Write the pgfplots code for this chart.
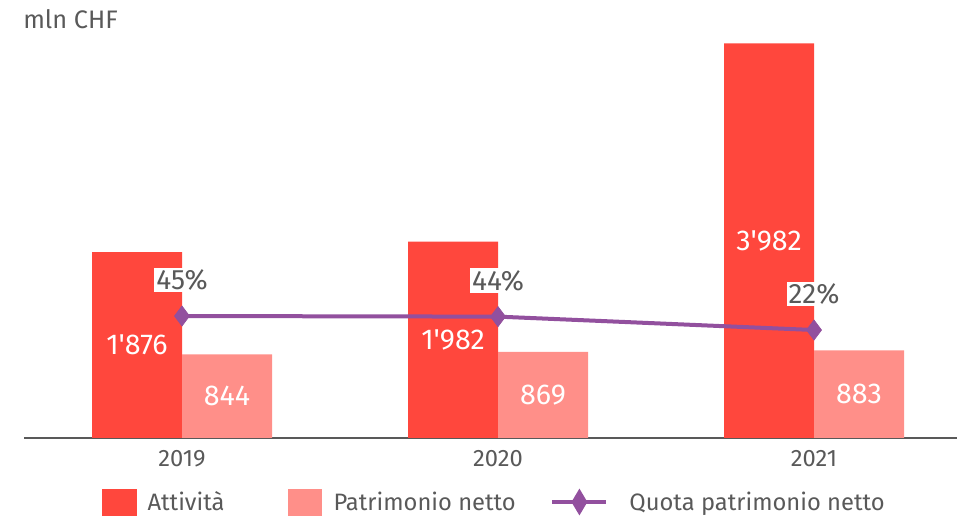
\documentclass[border=0pt]{standalone}
\usepackage{pgfplots}
\pgfplotsset{compat=1.18}
\usepackage{pgfplotstable}
\usepackage{fontspec}
\setmainfont{Fira Sans}
\definecolor{attred}{HTML}{FF473D}
\definecolor{patpink}{HTML}{FF8F89}
\definecolor{quotap}{HTML}{92509E}
\definecolor{txtgrey}{HTML}{595959}

\pgfplotsset{quotalegend/.style={legend image code/.code={\draw[mark repeat=2, mark phase=2, ##1, mark options={xscale=0.75, yscale=0.95}] plot coordinates {(0pt,0pt) (20.25pt,0pt) (40.5pt,0pt)};}}}

\pgfplotstableread{
x att pat
0 1876 844
1 1982 869
2 3982 883
}\datatable
\pgfplotstableread{
x quota
0 45
1 44
2 22
}\quotatable

\begin{document}
\begin{tikzpicture}
\useasboundingbox (0pt,0pt) rectangle (717.75pt,-387pt);
\node[anchor=base west, inner sep=0pt, text=txtgrey, font=\fontsize{19}{22}\selectfont] at (17.25pt,-21.75pt) {mln CHF};
\begin{axis}[
  at={(18pt,-328.5pt)}, anchor=south west,
  scale only axis, width=699.75pt, height=306pt,
  xmin=-0.5, xmax=2.4525, ymin=0, ymax=4116,
  axis x line*=bottom, axis y line=none,
  x axis line style={draw=txtgrey, line width=1.5pt},
  xtick={0,1,2}, xticklabels={2019,2020,2021}, major tick length=0pt,
  xticklabel style={font=\fontsize{17.8}{21}\selectfont, text=txtgrey, inner sep=0pt, anchor=north, yshift=-9pt},
  clip=false,
]
\addplot[ybar, bar width=67.5pt, bar shift=-33.75pt, fill=attred, draw=none] table[x=x,y=att]{\datatable};
\addplot[ybar, bar width=67.5pt, bar shift=33.75pt, fill=patpink, draw=none] table[x=x,y=pat]{\datatable};
\addplot[draw=none, mark=none, nodes near coords, point meta=\thisrow{att},
  /pgf/number format/fixed, /pgf/number format/precision=0,
  /pgf/number format/1000 sep={\textquotesingle}, /pgf/number format/assume math mode=true,
  every node near coord/.append style={anchor=center, xshift=-33.75pt, text=white, font=\fontsize{21.5}{25}\selectfont}]
  table[x=x, y expr=\thisrow{att}/2]{\datatable};
\addplot[draw=none, mark=none, nodes near coords, point meta=\thisrow{pat},
  /pgf/number format/fixed, /pgf/number format/precision=0,
  /pgf/number format/1000 sep={\textquotesingle}, /pgf/number format/assume math mode=true,
  every node near coord/.append style={anchor=center, xshift=33.75pt, text=white, font=\fontsize{21.5}{25}\selectfont}]
  table[x=x, y expr=\thisrow{pat}/2]{\datatable};
\end{axis}
\begin{axis}[
  at={(18pt,-328.5pt)}, anchor=south west,
  scale only axis, width=699.75pt, height=306pt,
  xmin=-0.5, xmax=2.4525, ymin=-155.4, ymax=514.9,
  hide axis, clip=false,
  legend columns=3,
  legend style={at={(0.0836,-0.1569)}, anchor=west, draw=none, fill=none, inner sep=0pt, outer sep=0pt,
    /tikz/column 1/.style={column sep=8.25pt},
    /tikz/column 2/.style={column sep=47.25pt},
    /tikz/column 3/.style={column sep=9pt},
    /tikz/column 4/.style={column sep=26pt},
    /tikz/column 5/.style={column sep=15.75pt},
    nodes={inner sep=0pt, text=txtgrey, font=\fontsize{17.8}{21}\selectfont}},
]
\addlegendimage{legend image code/.code={\fill[attred] (0pt,-9.75pt) rectangle (25.5pt,9.75pt);}}
\addlegendentry{Attività}
\addlegendimage{legend image code/.code={\fill[patpink] (0pt,-9.75pt) rectangle (25pt,9.75pt);}}
\addlegendentry{Patrimonio netto}
\addplot[color=quotap, line width=3pt, mark=diamond*, mark size=7.5pt, mark options={line width=0.5pt}, quotalegend,
  nodes near coords={\pgfmathprintnumber{\pgfplotspointmeta}\%}, point meta=y,
  /pgf/number format/assume math mode=true,
  every node near coord/.append style={anchor=center, yshift=27pt, fill=white, text=txtgrey, inner sep=1.5pt, font=\fontsize{21}{25}\selectfont}]
  table[x=x, y=quota]{\quotatable};
\addlegendentry{Quota patrimonio netto}
\end{axis}
\end{tikzpicture}
\end{document}
